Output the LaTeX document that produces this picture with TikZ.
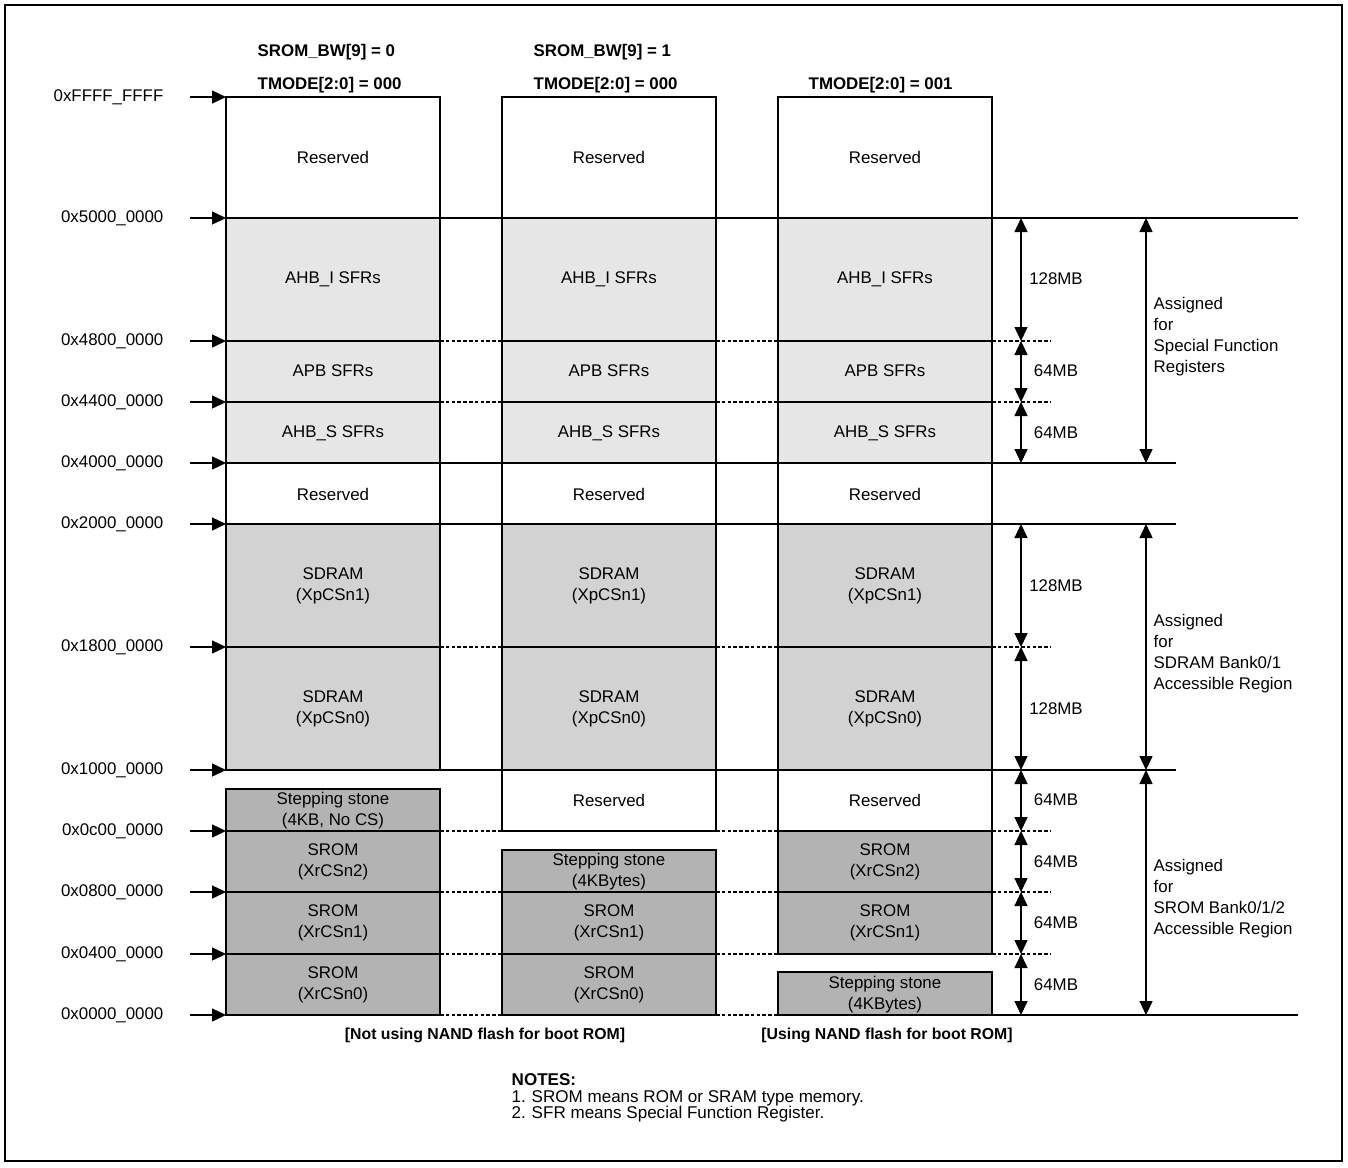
\documentclass[tikz,border=0pt]{standalone}
\usepackage{fontspec}
\setmainfont{Liberation Sans}
\usetikzlibrary{arrows.meta}
\definecolor{sfrgray}{RGB}{230,230,230}
\definecolor{dramgray}{RGB}{210,210,210}
\definecolor{romgray}{RGB}{179,179,179}
\tikzset{
  addr/.style={-{Triangle[length=0.28cm,width=0.26cm]}},
  span/.style={{Triangle[length=0.28cm,width=0.26cm]}-{Triangle[length=0.28cm,width=0.26cm]}},
  gapline/.style={line width=0.6pt, dash pattern=on 2pt off 1.3pt},
  lbl/.style={align=center, inner sep=0pt},
  side/.style={align=left, anchor=west, inner sep=0pt},
}
\begin{document}
\begin{tikzpicture}[x=0.02cm,y=-0.02cm,line width=0.8pt,font=\fontsize{9.6}{11.95}\selectfont]
  \useasboundingbox (0,0) rectangle (1348,1167);
  \draw[line width=1.1pt] (5,5) rectangle (1342,1161);

  % columns, upper part is the same for all three
  \foreach \x/\c in {226/1,502/2,778/3} {
    \draw (\x,97) rectangle ++(214,121);
    \draw[fill=sfrgray] (\x,218) rectangle ++(214,123);
    \draw[fill=sfrgray] (\x,341) rectangle ++(214,61);
    \draw[fill=sfrgray] (\x,402) rectangle ++(214,61);
    \draw (\x,463) rectangle ++(214,61);
    \draw[fill=dramgray] (\x,524) rectangle ++(214,123);
    \draw[fill=dramgray] (\x,647) rectangle ++(214,123);
    \node[lbl] (top\c) at (\x+107,157) {Reserved};
    \node[lbl] (ahbi\c) at (\x+107,279) {AHB\_I SFRs};
    \node[lbl] (apb\c) at (\x+107,371) {APB SFRs};
    \node[lbl] (ahbs\c) at (\x+107,433) {AHB\_S SFRs};
    \node[lbl] (mid\c) at (\x+107,494) {Reserved};
    \node[lbl] (dram\c) at (\x+107,586) {SDRAM\\(XpCSn1)};
    \node[lbl] (dramz\c) at (\x+107,709) {SDRAM\\(XpCSn0)};
  }

  % lower part, one column each
  \draw[fill=romgray] (226,789) rectangle (440,831);
  \draw[fill=romgray] (226,831) rectangle (440,892);
  \draw[fill=romgray] (226,892) rectangle (440,954);
  \draw[fill=romgray] (226,954) rectangle (440,1015);
  \node[lbl] (stone1) at (333,811) {Stepping stone\\(4KB, No CS)};
  \node[lbl] (romb1) at (333,862) {SROM\\(XrCSn2)};
  \node[lbl] (roma1) at (333,923) {SROM\\(XrCSn1)};
  \node[lbl] (romz1) at (333,985) {SROM\\(XrCSn0)};

  \draw (502,770) rectangle (716,831);
  \draw[fill=romgray] (502,850) rectangle (716,892);
  \draw[fill=romgray] (502,892) rectangle (716,954);
  \draw[fill=romgray] (502,954) rectangle (716,1015);
  \node[lbl] (low2) at (609,800) {Reserved};
  \node[lbl] (stone2) at (609,872) {Stepping stone\\(4KBytes)};
  \node[lbl] (roma2) at (609,923) {SROM\\(XrCSn1)};
  \node[lbl] (romz2) at (609,985) {SROM\\(XrCSn0)};

  \draw (778,770) rectangle (992,831);
  \draw[fill=romgray] (778,831) rectangle (992,892);
  \draw[fill=romgray] (778,892) rectangle (992,954);
  \draw[fill=romgray] (778,972) rectangle (992,1015);
  \node[lbl] (low3) at (885,800) {Reserved};
  \node[lbl] (romb3) at (885,862) {SROM\\(XrCSn2)};
  \node[lbl] (roma3) at (885,923) {SROM\\(XrCSn1)};
  \node[lbl] (stone3) at (885,995) {Stepping stone\\(4KBytes)};

  % boundary lines
  \draw (226,218) -- (1298,218);
  \draw (226,463) -- (1176,463);
  \draw (226,524) -- (1176,524);
  \draw (226,770) -- (1176,770);
  \draw (992,1015) -- (1298,1015);
  \foreach \y in {341,402,647,831,892,954} {
    \draw[gapline] (440,\y) -- (502,\y);
    \draw[gapline] (716,\y) -- (778,\y);
    \draw[gapline] (992,\y) -- (1051,\y);
  }
  \draw[gapline] (440,1015) -- (502,1015);
  \draw[gapline] (716,1015) -- (778,1015);

  % headers
  \node[side] (bw0) at (257,52) {\textbf{SROM\_BW[9] = 0}};
  \node[side] (tm1) at (257,85) {\textbf{TMODE[2:0] = 000}};
  \node[side] (bw1) at (533,52) {\textbf{SROM\_BW[9] = 1}};
  \node[side] (tm2) at (533,85) {\textbf{TMODE[2:0] = 000}};
  \node[side] (tm3) at (808,85) {\textbf{TMODE[2:0] = 001}};

  % addresses
  \foreach \y/\t in {97/0xFFFF\_FFFF,218/0x5000\_0000,341/0x4800\_0000,402/0x4400\_0000,
                     463/0x4000\_0000,524/0x2000\_0000,647/0x1800\_0000,770/0x1000\_0000,
                     831/0x0c00\_0000,892/0x0800\_0000,954/0x0400\_0000,1015/0x0000\_0000} {
    \node[anchor=east,inner sep=0pt] (a\y) at (164,\y) {\t};
    \coordinate (c\y) at (226,\y);
    \draw[addr] ([xshift=0.52cm]a\y.east) -- (c\y);
  }

  % sizes
  \foreach \y in {218,341,402,463,524,647,770,831,892,954,1015}
    \coordinate (m\y) at (1021,\y);
  \draw[span] (m218) -- (m341);
  \draw[span] (m341) -- (m402);
  \draw[span] (m402) -- (m463);
  \draw[span] (m524) -- (m647);
  \draw[span] (m647) -- (m770);
  \draw[span] (m770) -- (m831);
  \draw[span] (m831) -- (m892);
  \draw[span] (m892) -- (m954);
  \draw[span] (m954) -- (m1015);
  \node[lbl] (s1) at (1056,279) {128MB};
  \node[lbl] (s2) at (1056,371) {64MB};
  \node[lbl] (s3) at (1056,433) {64MB};
  \node[lbl] (s4) at (1056,586) {128MB};
  \node[lbl] (s5) at (1056,709) {128MB};
  \node[lbl] (s6) at (1056,800) {64MB};
  \node[lbl] (s7) at (1056,862) {64MB};
  \node[lbl] (s8) at (1056,923) {64MB};
  \node[lbl] (s9) at (1056,985) {64MB};

  \foreach \y in {218,463,524,770,1015}
    \coordinate (b\y) at (1146,\y);
  \draw[span] (b218) -- (b463);
  \draw[span] (b524) -- (b770);
  \draw[span] (b770) -- (b1015);
  \node[side] (sfr) at (1153,337) {Assigned\\for\\Special Function\\Registers};
  \node[side] (sdram) at (1153,654) {Assigned\\for\\SDRAM Bank0/1\\Accessible Region};
  \node[side] (srom) at (1153,899) {Assigned\\for\\SROM Bank0/1/2\\Accessible Region};

  % captions and notes
  \node[lbl,font=\fontsize{9}{11}\selectfont\bfseries] (cap1) at (485,1035) {[Not using NAND flash for boot ROM]};
  \node[lbl,font=\fontsize{9}{11}\selectfont\bfseries] (cap2) at (887,1035) {[Using NAND flash for boot ROM]};
  \node[side,font=\fontsize{9.7}{9.5}\selectfont] (notes) at (511,1098)
    {\textbf{NOTES:}\\\makebox[11.4pt][l]{1.}SROM means ROM or SRAM type memory.\\\makebox[11.4pt][l]{2.}SFR means Special Function Register.};
\end{tikzpicture}
\end{document}
